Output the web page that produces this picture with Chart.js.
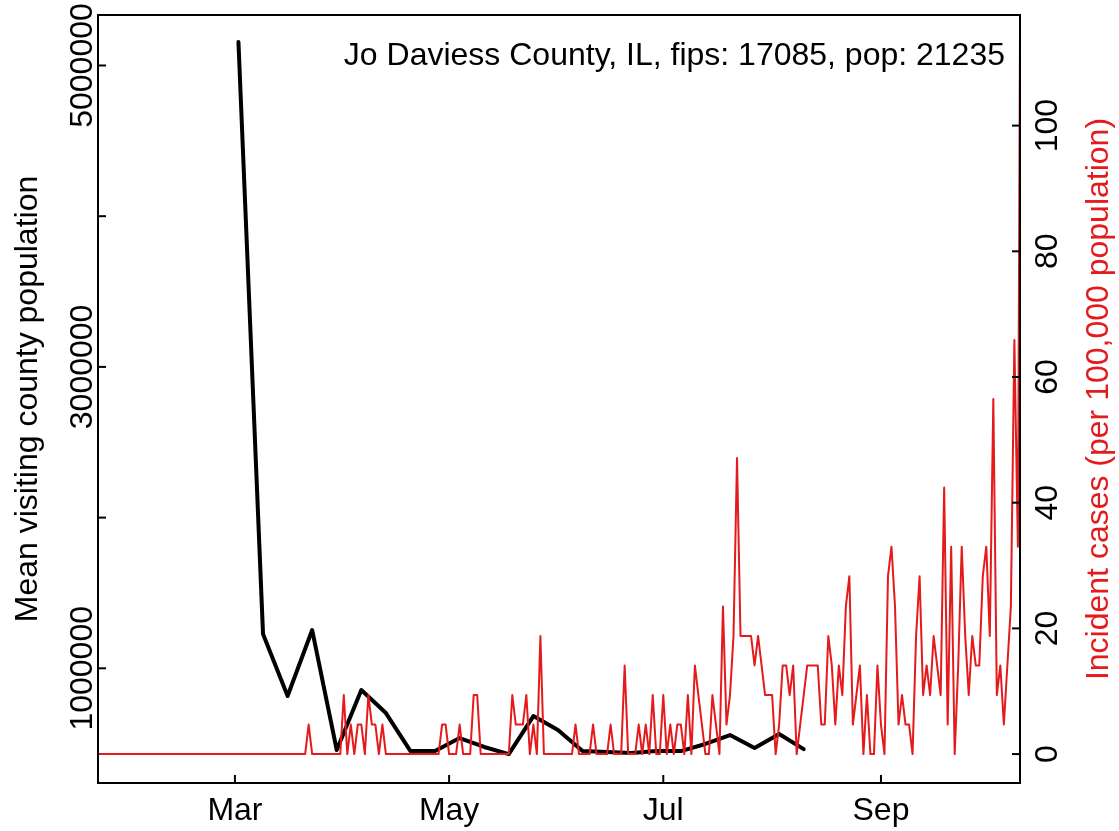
<!DOCTYPE html>
<html>
<head>
<meta charset="utf-8">
<script src="https://cdn.jsdelivr.net/npm/chart.js@4/dist/chart.umd.min.js"></script>
<style>
  body { margin: 0; background: #fff; }
  #wrap { width: 1119px; height: 831px; position: relative; }
</style>
</head>
<body>
<div id="wrap"><canvas id="graphic"></canvas></div>
<script>
// weekly mean visiting population (black line), x = day of year 2020 (Jan 1 = 0)
const visitDays = [61, 68, 75, 82, 89, 96, 103, 110, 117, 124, 131, 138, 145, 152, 159, 166, 173, 180, 187, 194, 201, 208, 215, 222];
const visitPop = [5156000, 1228000, 816000, 1254000, 458000, 856000, 703000, 451000, 451000, 537000, 478000, 431000,
  683000, 591000, 451000, 445000, 438000, 451000, 451000, 498000, 557000, 471000, 564000, 464000];

// daily incident cases per 100,000, starting Jan 22 (day 21)
const caseStartDay = 21;
const incidence = [
  0,0,0,0,0,0,0,0,0,0, 0,0,0,0,0,0,0,0,0,0, 0,0,0,0,0,0,0,0,0,0,
  0,0,0,0,0,0,0,0,0,0, 0,0,0,0,0,0,0,0,0,0, 0,0,0,0,0,0,0,0,0,0,
  4.7, 0,0,0,0,0,0,0,0,0,
  9.4, 0, 4.7, 0, 4.7, 4.7, 0, 9.4, 4.7, 4.7, 0, 4.7,
  0,0,0,0,0,0,0,0,0,0,0,0,0,0,0,0,
  4.7, 4.7, 0, 0, 0, 4.7, 0, 0, 0, 9.4, 9.4,
  0,0,0,0,0,0,0,0,0,
  9.4, 4.7, 4.7, 4.7, 9.4, 0, 4.7, 0, 18.8,
  0,0,0,0,0,0,0,0,0,
  4.7, 0, 0, 0, 0, 4.7, 0, 0, 0, 0, 4.7, 0, 0, 0, 14.1, 0, 0, 0,
  4.7, 0, 4.7, 0, 9.4, 0, 0, 9.4, 0, 4.7, 0, 4.7, 4.7, 0, 9.4, 0,
  14.1, 9.4, 4.7, 0, 0, 9.4, 4.7, 0, 23.5, 4.7, 9.4, 18.8, 47.1,
  18.8, 18.8, 18.8, 18.8, 14.1, 18.8, 14.1, 9.4, 9.4, 9.4, 0, 4.7,
  14.1, 14.1, 9.4, 14.1, 0, 4.7, 9.4, 14.1, 14.1, 14.1, 14.1, 4.7, 4.7,
  18.8, 14.1, 4.7, 14.1, 9.4, 23.5, 28.3, 4.7, 9.4, 14.1, 0, 9.4, 0, 0,
  14.1, 4.7, 0, 28.3, 33.0, 23.5, 4.7, 9.4, 4.7, 4.7, 0, 18.8, 28.3,
  9.4, 14.1, 9.4, 18.8, 14.1, 9.4, 42.4, 4.7, 33.0, 0, 14.1, 33.0,
  18.8, 9.4, 18.8, 14.1, 14.1, 28.3, 33.0, 18.8, 56.5, 9.4, 14.1, 4.7,
  14.1, 23.5, 65.9, 33.0, 169.5
];

// axis ticks
const monthTickDays = [60, 121, 182, 244];
const monthTickLabels = ['Mar', 'May', 'Jul', 'Sep'];
const popTicks = [1000000, 2000000, 3000000, 4000000, 5000000];
const popTickLabels = ['1000000', '', '3000000', '', '5000000'];
const caseTicks = [0, 20, 40, 60, 80, 100];

const titleText = 'Jo Daviess County, IL, fips: 17085, pop: 21235';
const leftTitle = 'Mean visiting county population';
const rightTitle = 'Incident cases (per 100,000 population)';

const RED = '#e41a1c';
const FONT = '32px "Liberation Sans", Arial, sans-serif';

// draws the R style box, inward ticks and rotated labels
const axesPlugin = {
  id: 'rAxes',
  afterDraw(chart) {
    const ctx = chart.ctx;
    const a = chart.chartArea;
    const sx = chart.scales.x, sl = chart.scales.yL, sr = chart.scales.yR;
    ctx.save();
    ctx.strokeStyle = '#000';
    ctx.lineWidth = 2;
    ctx.strokeRect(a.left, a.top, a.right - a.left, a.bottom - a.top);

    ctx.font = FONT;
    ctx.fillStyle = '#000';
    const tl = 8;

    // bottom
    ctx.textAlign = 'center';
    ctx.textBaseline = 'alphabetic';
    monthTickDays.forEach((d, i) => {
      const x = sx.getPixelForValue(d);
      ctx.beginPath(); ctx.moveTo(x, a.bottom); ctx.lineTo(x, a.bottom - tl); ctx.stroke();
      ctx.fillText(monthTickLabels[i], x, 820);
    });

    // left
    popTicks.forEach((v, i) => {
      const y = sl.getPixelForValue(v);
      ctx.beginPath(); ctx.moveTo(a.left, y); ctx.lineTo(a.left + tl, y); ctx.stroke();
      if (popTickLabels[i]) {
        ctx.save(); ctx.translate(92, y); ctx.rotate(-Math.PI / 2);
        ctx.fillText(popTickLabels[i], 0, 0); ctx.restore();
      }
    });

    // right
    caseTicks.forEach(v => {
      const y = sr.getPixelForValue(v);
      ctx.beginPath(); ctx.moveTo(a.right, y); ctx.lineTo(a.right - tl, y); ctx.stroke();
      ctx.save(); ctx.translate(1057, y); ctx.rotate(-Math.PI / 2);
      ctx.fillText(String(v), 0, 0); ctx.restore();
    });

    const midY = (a.top + a.bottom) / 2;
    ctx.save(); ctx.translate(37, midY); ctx.rotate(-Math.PI / 2);
    ctx.fillText(leftTitle, 0, 0); ctx.restore();

    ctx.fillStyle = RED;
    ctx.save(); ctx.translate(1108, midY); ctx.rotate(-Math.PI / 2);
    ctx.fillText(rightTitle, 0, 0); ctx.restore();

    ctx.fillStyle = '#000';
    ctx.textAlign = 'right';
    ctx.fillText(titleText, 1005, 65);
    ctx.restore();
  }
};

const visitData = visitDays.map((d, i) => ({ x: d, y: visitPop[i] }));
const caseData = incidence.map((v, i) => ({ x: caseStartDay + i, y: v }));

new Chart(document.getElementById('graphic'), {
  type: 'line',
  data: {
    datasets: [
      {
        data: caseData,
        yAxisID: 'yR',
        borderColor: RED,
        borderWidth: 2,
        pointRadius: 0,
        tension: 0,
        borderJoinStyle: 'round',
        borderCapStyle: 'round'
      },
      {
        data: visitData,
        yAxisID: 'yL',
        borderColor: '#000',
        borderWidth: 4,
        pointRadius: 0,
        tension: 0,
        borderJoinStyle: 'round',
        borderCapStyle: 'round'
      }
    ]
  },
  options: {
    responsive: true,
    maintainAspectRatio: false,
    animation: false,
    layout: { padding: { left: 98, right: 99, top: 15, bottom: 48 } },
    scales: {
      x: { type: 'linear', display: false, min: 21, max: 283.6 },
      yL: { type: 'linear', display: false, position: 'left', min: 239000, max: 5335000 },
      yR: { type: 'linear', display: false, position: 'right', min: -4.6, max: 117.6 }
    },
    plugins: { legend: { display: false }, tooltip: { enabled: false } }
  },
  plugins: [axesPlugin]
});
</script>
</body>
</html>
